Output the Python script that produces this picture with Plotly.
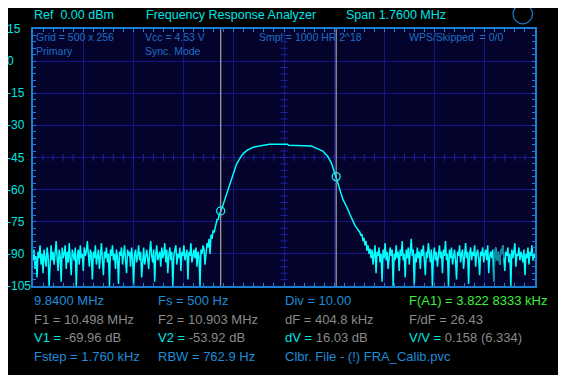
import numpy as np
import plotly.graph_objects as go

# ---------------- data ----------------
F_START = 9.84          # MHz
SPAN = 1.76             # MHz
N_POINTS = 500

noise_left = [
    -93, -88, -97, -91, -101, -89, -92, -86, -95, -90,
    -99, -88, -92, -96, -87, -91, -105, -90, -86, -93,
    -89, -95, -90, -84, -92, -98, -88, -91, -103, -87,
    -92, -90, -86, -97, -89, -94, -85, -91, -100, -88,
    -90, -93, -87, -105, -91, -88, -95, -86, -92, -90,
    -98, -87, -91, -89, -84, -93, -96, -88, -90, -102,
    -89, -92, -86, -95, -90, -88, -97, -91, -85, -93,
    -100, -89, -92, -87, -94, -90, -105, -88, -91, -86,
    -93, -90, -97, -88, -92, -104, -89, -91, -87, -95,
    -90, -86, -93, -99, -88, -91, -89, -96, -87, -92,
    -105, -90, -88, -94, -91, -86, -93, -89, -101, -92,
    -87, -95, -90, -88, -92, -97, -89, -84, -91, -94,
    -88, -103, -90, -86, -93, -91, -89, -96, -87, -92,
    -90, -85, -94, -88, -99, -91, -87, -93, -89, -105,
    -91, -88, -86, -95, -90, -92, -87, -98, -89, -91,
    -86, -93, -90, -88, -102, -89, -91, -85, -94, -90,
    -88, -92, -87, -96, -89, -91, -105, -88, -90, -86,
]

skirt_left = [
    -88, -95, -90, -85, -87, -83, -90, -81, -83, -79,
    -80, -77, -76, -74, -74, -72, -71,
    -70.0, -68.5, -67.0, -65.5, -64.0, -62.5, -61.0, -59.5, -58.0, -56.5,
    -55.2, -53.8, -52.5, -51.1, -49.8, -48.5, -47.5, -46.6, -45.8, -45.0,
    -44.3, -43.7, -43.2, -42.7, -42.3, -41.9, -41.6, -41.3, -41.0, -40.8,
    -40.6, -40.4, -40.2, -40.1, -40.0, -39.8, -39.7, -39.6, -39.5, -39.4,
    -39.3, -39.2, -39.1, -39.0, -38.9,
]

passband = [
    -38.8, -38.8, -38.8, -38.8, -38.8, -38.8, -38.8, -38.8, -38.8, -38.8, -38.8,
    -38.8, -38.8, -38.8, -38.8, -38.8, -38.8, -38.8, -38.8, -38.8, -38.8, -38.8,
    -39.3, -39.3, -39.3, -39.3, -39.3, -39.3, -39.3, -39.3, -39.3, -39.3,
    -39.3, -39.3, -39.3, -39.3, -39.3, -39.3, -39.3, -39.3, -39.3, -39.3,
]

skirt_right = [
    -39.4, -39.5, -39.6, -39.7, -39.9, -40.0, -40.2, -40.3, -40.5, -40.7,
    -40.9, -41.1, -41.4, -41.7, -42.0, -42.4, -42.8, -43.3, -43.9, -44.5,
    -45.2, -46.1, -47.0, -48.0, -49.3, -50.9, -52.5, -53.9, -55.2, -56.8,
    -58.5, -60.2, -61.8, -63.3, -64.6, -65.4, -66.3, -67.0, -67.8, -69.0,
    -70.3, -71.5, -72.7, -73.9, -75.0, -75.8, -76.7, -77.4, -78.0, -78.8,
    -79.4, -80.0, -81.5, -80.8, -84.0, -82.5, -86.0, -84.0, -88.5, -86.0,
    -90.0, -87.5,
]

noise_right = [
    -92, -88, -95, -90, -86, -99, -89, -91, -87, -94,
    -90, -103, -88, -92, -85, -93, -89, -97, -90, -87,
    -91, -88, -105, -90, -93, -86, -92, -89, -98, -88,
    -91, -84, -93, -90, -101, -88, -92, -87, -95, -89,
    -83, -91, -88, -105, -90, -94, -87, -92, -89, -97,
    -88, -91, -86, -93, -100, -89, -92, -85, -90, -94,
    -88, -105, -91, -87, -93, -89, -96, -90, -86, -92,
    -89, -99, -88, -91, -84, -93, -90, -105, -88, -92,
    -87, -95, -90, -88, -93, -102, -89, -91, -86, -94,
    -90, -88, -97, -91, -85, -92, -89, -104, -90, -87,
    -93, -89, -91, -86, -96, -90, -88, -92, -100, -89,
    -91, -87, -94, -90, -88, -93, -86, -99, -91, -89,
    -92, -88, -103, -90, -87, -93, -89, -91, -95, -88,
    -90, -86, -92, -98, -89, -91, -87, -94, -90, -105,
    -88, -92, -89, -85, -96, -90, -91, -87, -93, -89,
    -91, -94, -88, -100, -90, -92, -87, -95, -89, -91,
    -86, -93, -90, -92,
]

dim_segment = (458, 469)   # index range of the darker trace piece

cursor_freqs = [10.498, 10.903]      # MHz
cursor_levels = [-69.96, -53.92]     # dB

y_tick_values = [15, 0, -15, -30, -45, -60, -75, -90, -105]
y_tick_labels = ["15", "0", "-15", "-30", "-45", "-60", "-75", "-90", "-105"]

header_texts = ["Ref\u00a0\u00a00.00 dBm", "Frequency Response Analyzer", "Span 1.7600 MHz"]
inner_row1 = ["Grid = 500 x 256", "Vcc = 4.53 V", "Smpl = 1000 HR 2^18", "WPS/Skipped\u00a0\u00a0= 0/0"]
inner_row2 = ["Primary", "Sync. Mode"]

# ---------------- colours / layout helpers ----------------
BG = "#000000"
PLOT_BG = "#03032c"
GRID = "#15158a"
BORDER = "#1a7fd4"
TRACE = "#00ffff"
TRACE_DIM = "#17809a"
CYAN_TXT = "#00e4e4"
INNER_TXT = "#1d6fc4"
BLUE_TXT = "#1e8cd8"
GRAY_TXT = "#8a8a8a"
GREEN_TXT = "#3cf03c"
FONT = "Liberation Sans, Arial, sans-serif"

OFF = 8                      # page offset of the figure inside the window
W, H = 566, 375
L, R, T, B = 33 - OFF, 535 - OFF, 29 - OFF, 286 - OFF


def px(xp):
    return (xp - OFF - L) / (R - L)


def py(yp):
    return (B - (yp - OFF)) / (B - T)


levels = np.array(noise_left + skirt_left + passband + skirt_right + noise_right, dtype=float)
freqs = np.linspace(F_START, F_START + SPAN, N_POINTS)
f_center = F_START + SPAN / 2
x_div = SPAN / 10
y_div = 15

fig = go.Figure()

# centre-line minor ticks
xm = F_START + np.arange(1, 50) * x_div / 5
ym = -105 + np.arange(1, 40) * y_div / 5
fig.add_trace(go.Scatter(
    x=xm, y=np.full(len(xm), -45.0), mode="markers",
    marker=dict(symbol="line-ns", size=5, line=dict(color="#2222a6", width=1)),
    hoverinfo="skip"))
fig.add_trace(go.Scatter(
    x=np.full(len(ym), f_center), y=ym, mode="markers",
    marker=dict(symbol="line-ew", size=5, line=dict(color="#2222a6", width=1)),
    hoverinfo="skip"))

# main trace
fig.add_trace(go.Scatter(x=freqs, y=levels, mode="lines",
                         line=dict(color=TRACE, width=1.5), hoverinfo="skip"))
a, b = dim_segment
fig.add_trace(go.Scatter(x=freqs[a:b], y=levels[a:b], mode="lines",
                         line=dict(color=TRACE_DIM, width=1.5), hoverinfo="skip"))

# cursors
for f in cursor_freqs:
    fig.add_shape(type="line", xref="x", yref="paper", x0=f, x1=f, y0=0, y1=1,
                  line=dict(color="#a6a6a6", width=1.2), layer="above")
fig.add_trace(go.Scatter(x=cursor_freqs, y=cursor_levels, mode="markers",
                         marker=dict(symbol="circle-open", size=8,
                                     line=dict(color=TRACE, width=1.3), color=TRACE),
                         hoverinfo="skip"))

ann = []
# y labels
for v, t in zip(y_tick_values, y_tick_labels):
    ann.append(dict(x=px(5), y=v, xref="paper", yref="y", text=t, showarrow=False,
                    xanchor="left", yanchor="middle",
                    font=dict(family=FONT, size=12, color=CYAN_TXT)))

# header
for xp, t in zip([32, 144, 344], header_texts):
    ann.append(dict(x=px(xp), y=py(15.5), xref="paper", yref="paper", text=t,
                    showarrow=False, xanchor="left", yanchor="middle",
                    font=dict(family=FONT, size=12.5, color=CYAN_TXT)))

# inner texts
for xp, t in zip([34, 143, 257, 407], inner_row1):
    ann.append(dict(x=px(xp), y=py(36.5), xref="paper", yref="paper", text=t,
                    showarrow=False, xanchor="left", yanchor="middle",
                    font=dict(family=FONT, size=10.5, color=INNER_TXT)))
for xp, t in zip([34, 143], inner_row2):
    ann.append(dict(x=px(xp), y=py(50.5), xref="paper", yref="paper", text=t,
                    showarrow=False, xanchor="left", yanchor="middle",
                    font=dict(family=FONT, size=10.5, color=INNER_TXT)))


def c(txt, col):
    return f"<span style='color:{col}'>{txt}</span>"


dV = cursor_levels[1] - cursor_levels[0]
bottom_rows = [
    [c(f"{F_START:.4f} MHz", BLUE_TXT), c("Fs = 500 Hz", BLUE_TXT),
     c("Div = 10.00", BLUE_TXT), c("F(A1) = 3.822 8333 kHz", GREEN_TXT)],
    [c(f"F1 = {cursor_freqs[0]:.3f} MHz", GRAY_TXT), c(f"F2 = {cursor_freqs[1]:.3f} MHz", GRAY_TXT),
     c("dF = 404.8 kHz", GRAY_TXT), c("F/dF = 26.43", GRAY_TXT)],
    [c("V1 = ", CYAN_TXT) + c(f"{cursor_levels[0]:.2f} dB", GRAY_TXT),
     c("V2 = ", CYAN_TXT) + c(f"{cursor_levels[1]:.2f} dB", GRAY_TXT),
     c("dV = ", CYAN_TXT) + c("16.03 dB", GRAY_TXT),
     c("V/V = ", CYAN_TXT) + c("0.158 (6.334)", GRAY_TXT)],
    [c("Fstep = 1.760 kHz", BLUE_TXT), c("RBW = 762.9 Hz", BLUE_TXT),
     c("Clbr. File - (!) FRA_Calib.pvc", BLUE_TXT)],
]
row_y = [300.5, 319, 337.5, 356]
col_x = [32, 156, 282.5, 407]
for r, yy in zip(bottom_rows, row_y):
    for xp, t in zip(col_x, r):
        ann.append(dict(x=px(xp), y=py(yy), xref="paper", yref="paper", text=t,
                        showarrow=False, xanchor="left", yanchor="middle",
                        font=dict(family=FONT, size=13, color=GRAY_TXT)))

# top-right circle
fig.add_shape(type="circle", xref="paper", yref="paper",
              x0=px(513), x1=px(532.5), y0=py(23.8), y1=py(4.3),
              line=dict(color=BORDER, width=1.2))

fig.update_layout(
    width=W, height=H,
    margin=dict(l=L, r=W - R, t=T, b=H - B, pad=0),
    paper_bgcolor=BG, plot_bgcolor=PLOT_BG,
    showlegend=False, hovermode=False,
    annotations=ann,
    xaxis=dict(range=[F_START, F_START + SPAN], tick0=F_START, dtick=x_div,
               showgrid=True, gridcolor=GRID, gridwidth=1, zeroline=False,
               showticklabels=False, ticks="inside", ticklen=3, tickcolor=BORDER,
               showline=True, linecolor=BORDER, linewidth=1.5, mirror="ticks",
               minor=dict(ticks="inside", ticklen=3, dtick=x_div / 5, tick0=F_START,
                          tickcolor=BORDER, showgrid=False),
               fixedrange=True),
    yaxis=dict(range=[-105, 15], tick0=-105, dtick=y_div,
               showgrid=True, gridcolor=GRID, gridwidth=1, zeroline=False,
               showticklabels=False, ticks="inside", ticklen=3, tickcolor=BORDER,
               showline=True, linecolor=BORDER, linewidth=1.5, mirror="ticks",
               minor=dict(ticks="inside", ticklen=3, dtick=y_div / 5, tick0=-105,
                          tickcolor=BORDER, showgrid=False),
               fixedrange=True),
)

fig.write_html("out.html")
